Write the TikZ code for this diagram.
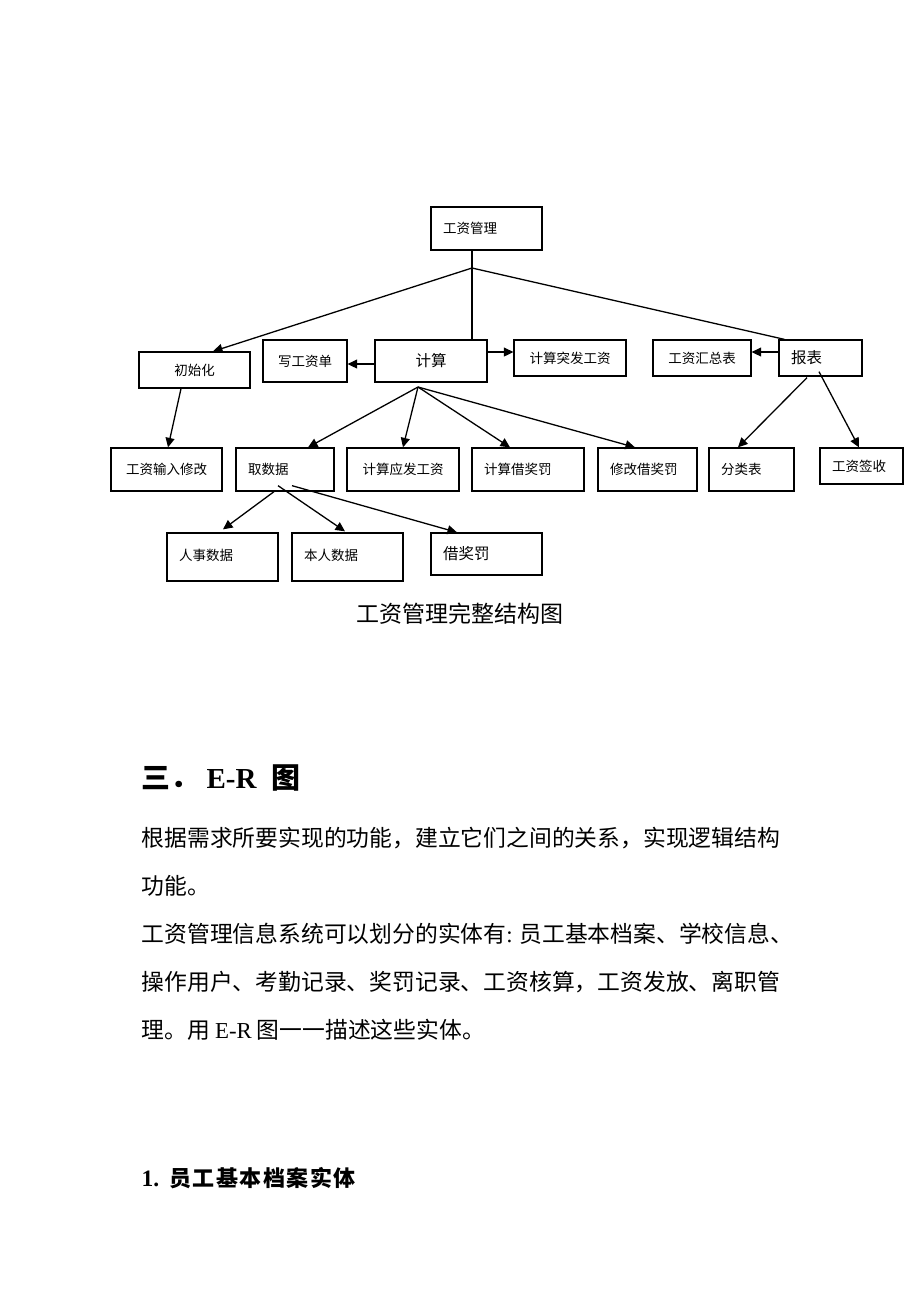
\documentclass[tikz,border=0pt]{standalone}
\usepackage{fontspec}
\setmainfont{Liberation Serif}
\newfontfamily\cjk{Noto Sans CJK SC}
\usetikzlibrary{arrows.meta,calc}
\begin{document}
\begin{tikzpicture}[x=1pt,y=-1pt,
  line width=1.3pt,
  arr/.style={-{Triangle[length=9.5pt,width=9pt]}},
  boxbase/.style={draw, line width=1.3pt, rectangle, inner ysep=0pt, font=\cjk\fontsize{13.5pt}{15pt}\selectfont},
  bigtxt/.style={font=\cjk\fontsize{15.5pt}{17pt}\selectfont},
  bodyline/.style={anchor=base west, inner sep=0pt, font=\cjk\fontsize{22.8pt}{26pt}\selectfont}]
\useasboundingbox (0,0) rectangle (920,1302);
\fill[white] (0,0) rectangle (920,1302);
% box macro: name, x1, y1, x2, y2, align, text, extra
\newcommand{\mybox}[8]{%
  \pgfmathsetmacro{\bw}{#4-#2}\pgfmathsetmacro{\bh}{#5-#3}\pgfmathsetmacro{\tw}{#4-#2-24}%
  \node[boxbase, minimum width=\bw pt, minimum height=\bh pt, inner xsep=12pt, text width=\tw pt, align=#6, #8] (#1) at ({(#2+#4)/2},{(#3+#5)/2}) {#7};}
\mybox{top}{431}{207}{542}{250}{left}{工资管理}{}
\mybox{init}{139}{352}{250}{388}{center}{初始化}{}
\mybox{write}{263}{340}{347}{382}{center}{写工资单}{}
\mybox{calc}{375}{340}{487}{382}{center}{计算}{bigtxt}
\mybox{sudden}{514}{340}{626}{376}{center}{计算突发工资}{}
\mybox{sum}{653}{340}{751}{376}{center}{工资汇总表}{}
\mybox{rep}{779}{340}{862}{376}{left}{报表}{bigtxt}
\mybox{input}{111}{448}{222}{491}{center}{工资输入修改}{}
\mybox{get}{236}{448}{334}{491}{left}{取数据}{}
\mybox{due}{347}{448}{459}{491}{center}{计算应发工资}{}
\mybox{jjf}{472}{448}{584}{491}{left}{计算借奖罚}{}
\mybox{xgjf}{598}{448}{697}{491}{left}{修改借奖罚}{}
\mybox{cls}{709}{448}{794}{491}{left}{分类表}{}
\mybox{sign}{820}{448}{903}{484}{left}{工资签收}{}
\mybox{rs}{167}{533}{278}{581}{left}{\raisebox{4pt}{人事数据}}{}
\mybox{br}{292}{533}{403}{581}{left}{\raisebox{4pt}{本人数据}}{}
\mybox{jj}{431}{533}{542}{575}{left}{借奖罚}{bigtxt}
\coordinate (J) at (472,268);
\coordinate (K) at (418,387);
% connectors
\draw (J |- top.south) -- (J |- calc.north);
\draw[arr] (J) -- ([xshift=18.5pt]init.north);
\draw (J) -- ([xshift=6pt]rep.north west);
\draw[arr] ([yshift=-3pt]calc.west) -- ([yshift=-3pt]calc.west -| write.east);
\draw[arr] ([yshift=9pt]calc.east) -- ([yshift=9pt]calc.east -| sudden.west);
\draw[arr] ([yshift=6pt]rep.west) -- ([yshift=6pt]rep.west -| sum.east);
\draw[arr] ([xshift=-13.5pt]init.south) -- ([xshift=1.5pt]input.north);
\draw[arr] (K) -- ([xshift=23pt]get.north);
\draw[arr] (K) -- (due.north);
\draw[arr] (K) -- ([xshift=-18pt]jjf.north);
\draw[arr] (K) -- ([xshift=-12.5pt]xgjf.north);
\draw[arr] ([xshift=-13.5pt,yshift=-1pt]rep.south) -- ([xshift=-13.5pt]cls.north);
\draw[arr] ([xshift=-1.5pt,yshift=5pt]rep.south) -- ([xshift=-2.5pt]sign.north);
\draw[arr] ([xshift=-11pt]get.south) -- ([xshift=0.5pt,yshift=3pt]rs.north);
\draw[arr] ([xshift=-7pt,yshift=6pt]get.south) -- ([xshift=-2.5pt,yshift=1pt]br.north);
\draw[arr] ([xshift=7pt,yshift=6pt]get.south) -- ([xshift=-29.5pt]jj.north);
% caption
\node[font=\cjk\fontsize{23pt}{26pt}\selectfont, inner sep=0pt] (cap) at (460,614) {工资管理完整结构图};
% heading
\node[anchor=base west, inner sep=0pt, font=\fontsize{29pt}{32pt}\selectfont\bfseries] (h3) at (141,788) {{\cjk\bfseries 三．}\hspace{7pt}E-R\hspace{15pt}{\cjk\bfseries 图}};
\node[bodyline] (l1) at (141,846) {根据需求所要实现的功能，建立它们之间的关系，实现逻辑结构};
\node[bodyline] (l2) at (141,894) {功能。};
\node[bodyline] (l3) at (141,942) {工资管理信息系统可以划分的实体有{\rmfamily :} 员工基本档案、学校信息、};
\node[bodyline] (l4) at (141,990) {操作用户、考勤记录、奖罚记录、工资核算，工资发放、离职管};
\node[bodyline] (l5) at (141,1038) {理。用 {\rmfamily E-R} 图一一描述这些实体。};
\node[anchor=base west, inner sep=0pt, font=\fontsize{23.5pt}{26pt}\selectfont\bfseries] (h1) at (141,1186) {1.\hspace{10pt}{\cjk\fontsize{22pt}{26pt}\selectfont\bfseries 员\hspace{1.5pt}工\hspace{1.5pt}基\hspace{1.5pt}本\hspace{1.5pt}档\hspace{1.5pt}案\hspace{1.5pt}实\hspace{1.5pt}体}};
\end{tikzpicture}
\end{document}
